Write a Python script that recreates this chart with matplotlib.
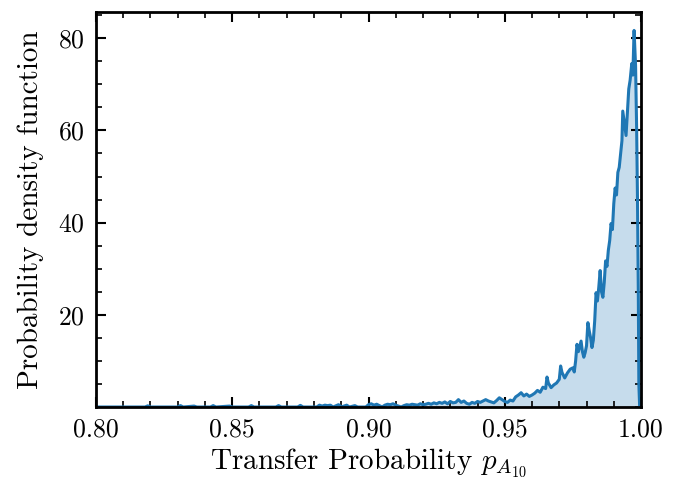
import matplotlib
matplotlib.use("Agg")
import matplotlib.pyplot as plt
from matplotlib.ticker import MultipleLocator, FormatStrFormatter

plt.rcParams["font.family"] = "serif"
plt.rcParams["font.serif"] = ["cmr10", "DejaVu Serif"]
plt.rcParams["mathtext.fontset"] = "cm"
plt.rcParams["axes.formatter.use_mathtext"] = True

# PDF of the transfer probability
p_vals = [0.800, 0.818, 0.819, 0.820, 0.830, 0.831, 0.832, 0.836, 0.837,
          0.842, 0.843, 0.844, 0.849, 0.850, 0.856, 0.857, 0.858, 0.866,
          0.867, 0.868, 0.874, 0.875, 0.876, 0.881, 0.882, 0.883, 0.884,
          0.885, 0.886, 0.887, 0.889, 0.890, 0.892, 0.893, 0.895, 0.896,
          0.899, 0.900, 0.901, 0.902, 0.903, 0.904, 0.905, 0.906, 0.907,
          0.908, 0.909, 0.910, 0.911, 0.912, 0.913, 0.914, 0.915, 0.916,
          0.917, 0.918, 0.919, 0.920, 0.921, 0.922, 0.923, 0.924, 0.925,
          0.926, 0.927, 0.928, 0.929, 0.930, 0.931, 0.932, 0.933, 0.934,
          0.935, 0.936, 0.937, 0.938, 0.939, 0.940, 0.941, 0.942, 0.943,
          0.944, 0.945, 0.946, 0.947, 0.948, 0.949, 0.950, 0.951, 0.952,
          0.953, 0.954, 0.955, 0.956, 0.957, 0.958, 0.959, 0.960, 0.961,
          0.962, 0.963, 0.964, 0.965, 0.9655, 0.966, 0.967, 0.968, 0.969,
          0.970, 0.9705, 0.971, 0.972, 0.973, 0.974, 0.975, 0.9755, 0.976,
          0.9765, 0.977, 0.978, 0.9785, 0.979, 0.9795, 0.980, 0.9805, 0.981,
          0.9815, 0.982, 0.9825, 0.983, 0.9835, 0.984, 0.9845, 0.985, 0.9855,
          0.986, 0.9865, 0.987, 0.9875, 0.988, 0.9885, 0.989, 0.9895, 0.990,
          0.9905, 0.991, 0.9915, 0.992, 0.9925, 0.993, 0.9933, 0.9938, 0.9945,
          0.995, 0.9955, 0.9960, 0.9966, 0.9970, 0.99745, 0.9980, 0.9984,
          0.9987, 0.9990, 0.9992, 0.9995]
pdf_vals = [0.0, 0.0, 0.25, 0.0, 0.0, 0.3, 0.0, 0.2, 0.0,
            0.0, 0.3, 0.0, 0.2, 0.0, 0.0, 0.3, 0.0, 0.0,
            0.3, 0.0, 0.0, 0.35, 0.0, 0.0, 0.4, 0.2, 0.4,
            0.3, 0.4, 0.0, 0.5, 0.0, 0.4, 0.0, 0.3, 0.0,
            0.0, 0.5, 0.7, 0.4, 0.6, 0.3, 0.0, 0.4, 0.6,
            0.5, 0.7, 0.4, 0.2, 0.0, 0.3, 0.5, 0.4, 0.6,
            0.5, 0.4, 0.7, 0.5, 0.6, 0.8, 0.6, 0.9, 0.7,
            1.0, 0.8, 1.1, 0.7, 1.2, 0.9, 1.0, 1.6, 1.0,
            1.3, 0.8, 0.6, 1.0, 0.8, 1.2, 1.0, 1.3, 1.6,
            1.3, 1.1, 0.9, 1.4, 2.0, 1.6, 1.2, 1.0, 1.5,
            1.3, 2.2, 2.6, 3.1, 2.4, 2.8, 2.3, 2.6, 3.0,
            3.6, 3.2, 4.3, 4.0, 6.5, 5.2, 4.2, 4.8, 5.2,
            6.0, 8.9, 7.5, 6.3, 7.4, 8.2, 8.5, 7.6, 10.0,
            13.6, 12.0, 14.3, 12.0, 10.8, 11.8, 13.3, 18.3, 16.5,
            15.0, 12.9, 14.5, 18.7, 24.8, 23.0, 26.0, 29.6, 25.0,
            23.8, 27.0, 31.7, 30.5, 34.0, 36.1, 39.8, 38.5, 44.1,
            47.5, 46.0, 50.9, 52.0, 55.0, 57.8, 64.2, 62.0, 58.9,
            64.0, 69.0, 70.9, 74.5, 72.0, 81.7, 74.0, 60.0,
            45.0, 25.0, 5.0, 0.0]

fig = plt.figure(figsize=(6.97, 4.79), dpi=100)
ax = fig.add_axes([0.1377, 0.1503, 0.7820, 0.8247])

ax.fill_between(p_vals, pdf_vals, color="C0", alpha=0.25, lw=0)
ax.plot(p_vals, pdf_vals, color="C0", lw=2.2)

ax.set_xlim(0.80, 1.00)
ax.set_ylim(0, 85.7)
ax.set_yticks([20, 40, 60, 80])
ax.xaxis.set_major_locator(MultipleLocator(0.05))
ax.xaxis.set_major_formatter(FormatStrFormatter("%.2f"))
ax.xaxis.set_minor_locator(MultipleLocator(0.01))
ax.yaxis.set_minor_locator(MultipleLocator(5))
ax.tick_params(which="both", direction="in", top=True, right=True,
               labelsize=18.5)
ax.tick_params(which="major", length=7, width=1.5, pad=8)
ax.tick_params(which="minor", length=4, width=1.2)
for sp in ax.spines.values():
    sp.set_linewidth(2)

ax.set_xlabel(r"Transfer Probability $p_{A_{10}}$", fontsize=21, labelpad=3)
ax.set_ylabel("Probability density function", fontsize=21, labelpad=10)

plt.savefig("out.png", dpi=100)
